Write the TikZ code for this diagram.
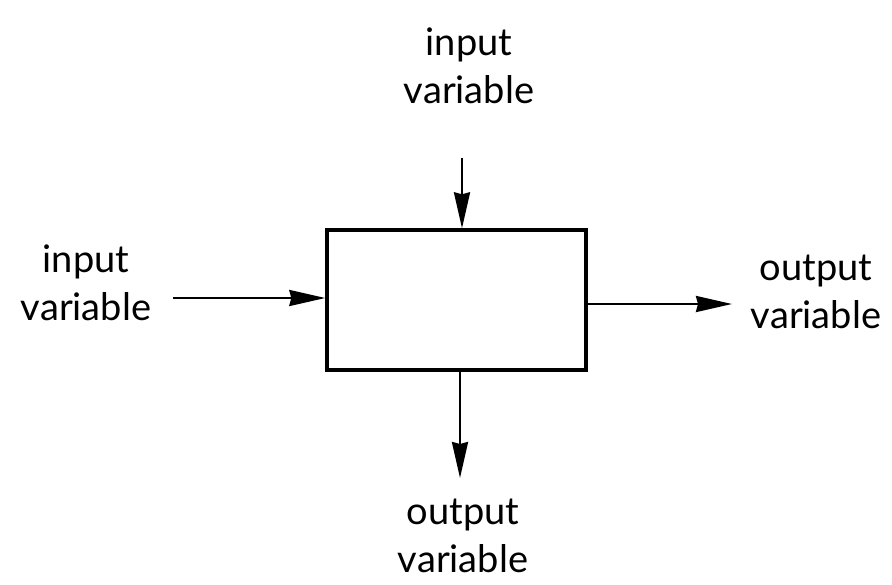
\documentclass[tikz,border=0pt]{standalone}
\usepackage{fontspec}
\setmainfont{Lato}
\usetikzlibrary{arrows.meta}
\begin{document}
\begin{tikzpicture}[x=1pt,y=-1pt,
  lbl/.style={align=center,font=\fontsize{38}{48}\selectfont,inner sep=0pt},
  conn/.style={line width=2.4pt,-{Stealth[length=36pt,width=16pt,inset=2pt]}},
  blk/.style={draw,line width=3.4pt,minimum width=259pt,minimum height=140pt,inner sep=0pt}]
\useasboundingbox (0,0) rectangle (892,584);
\node[lbl] (tin) at (469,66) {input\\variable};
\node[blk] (box) at (456.5,300) {};
\node[lbl] (lin) at (86,283) {input\\variable};
\node[lbl] (rout) at (816,292) {output\\variable};
\node[lbl] (bout) at (463,536) {output\\variable};
\coordinate (tA) at (462,158);
\coordinate (lA) at (173,298);
\coordinate (rB) at (732,304);
\coordinate (bB) at (460,478);
\draw[conn] (tA) -- (tA |- box.north);
\draw[conn] (lA) -- (lA -| box.west);
\draw[conn] (box.east |- rB) -- (rB);
\draw[conn] (box.south -| bB) -- (bB);
\end{tikzpicture}
\end{document}
